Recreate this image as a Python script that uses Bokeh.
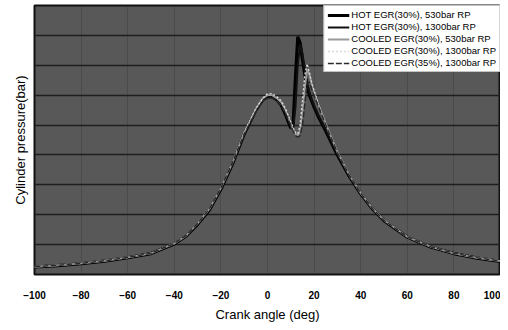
from bokeh.plotting import figure
from bokeh.embed import file_html
from bokeh.resources import INLINE
from bokeh.models import Legend, LegendItem, FixedTicker

crank = [-100, -90, -80, -70, -60, -50, -40, -35, -30, -25, -20, -15, -10, -5, -2, 0, 2, 4, 6, 8, 10, 11, 12, 13, 14, 15, 16, 17, 18, 19, 20, 22, 25, 30, 35, 40, 45, 50, 60, 70, 80, 90, 100]

hot_530 = [2.5, 3.0, 3.6, 4.5, 5.6, 7.0, 10.2, 12.8, 16.8, 21.5, 28.5, 37.0, 47.0, 55.0, 58.5, 59.5, 59.5, 58.5, 56.5, 53.0, 49.0, 50.5, 66.0, 79.5, 77.5, 72.0, 67.0, 63.0, 60.0, 58.0, 56.0, 52.5, 48.0, 40.0, 33.0, 27.0, 22.0, 18.0, 12.5, 9.2, 7.0, 5.5, 4.4]
hot_1300 = [2.5, 3.0, 3.6, 4.5, 5.6, 7.0, 10.2, 12.8, 16.8, 21.5, 28.5, 37.0, 47.0, 55.0, 58.5, 59.5, 59.5, 58.5, 57.0, 53.5, 49.5, 48.5, 56.0, 70.0, 77.0, 74.0, 68.5, 64.0, 61.0, 58.5, 56.5, 53.0, 48.5, 40.5, 33.0, 27.0, 22.0, 18.0, 12.5, 9.2, 7.0, 5.5, 4.4]
cool_530 = [2.6, 3.1, 3.7, 4.6, 5.7, 7.1, 10.4, 13.0, 17.1, 21.9, 29.0, 37.5, 47.5, 55.5, 59.0, 60.0, 60.0, 59.0, 57.5, 54.5, 50.5, 48.5, 47.0, 46.5, 48.0, 54.0, 62.0, 68.5, 67.0, 63.5, 61.0, 56.5, 50.5, 41.0, 33.5, 27.3, 22.2, 18.2, 12.6, 9.3, 7.1, 5.6, 4.5]
cool_1300 = [2.6, 3.1, 3.7, 4.6, 5.7, 7.1, 10.4, 13.0, 17.1, 21.9, 29.0, 37.5, 47.5, 55.5, 59.0, 60.5, 60.5, 59.5, 58.0, 55.0, 51.0, 49.0, 47.5, 47.0, 50.0, 58.0, 66.5, 70.5, 67.5, 64.0, 61.5, 56.5, 50.0, 40.8, 33.3, 27.2, 22.1, 18.1, 12.6, 9.3, 7.1, 5.6, 4.5]
cool35_1300 = [2.6, 3.1, 3.7, 4.6, 5.7, 7.1, 10.4, 13.0, 17.1, 21.9, 29.0, 37.5, 47.0, 54.5, 58.0, 59.0, 59.0, 58.0, 56.5, 53.5, 50.0, 48.0, 46.5, 46.0, 46.5, 50.0, 57.0, 63.5, 64.5, 62.0, 60.0, 56.0, 50.0, 40.8, 33.3, 27.2, 22.1, 18.1, 12.6, 9.3, 7.1, 5.6, 4.5]

labels = ["HOT EGR(30%), 530bar RP", "HOT EGR(30%), 1300bar RP",
          "COOLED EGR(30%), 530bar RP", "COOLED EGR(30%), 1300bar RP",
          "COOLED EGR(35%), 1300bar RP"]
x_ticks = [-100, -80, -60, -40, -20, 0, 20, 40, 60, 80, 100]
y_grid = [0, 10, 20, 30, 40, 50, 60, 70, 80, 90]

FONT = "Liberation Sans"

p = figure(width=500, height=324, x_range=(-100, 100), y_range=(0, 90),
           output_backend="svg", toolbar_location=None,
           min_border_left=34, min_border_right=0, min_border_top=5, min_border_bottom=40)
p.background_fill_color = "#585858"
p.border_fill_color = "white"
p.outline_line_color = "#111111"
p.outline_line_width = 2

p.xgrid.grid_line_color = "#333333"
p.xgrid.grid_line_alpha = 0.35
p.ygrid.grid_line_color = "#1e1e1e"
p.ygrid.grid_line_width = 1.5
p.ygrid.ticker = FixedTicker(ticks=y_grid)
p.xaxis.ticker = FixedTicker(ticks=x_ticks)
p.yaxis.ticker = FixedTicker(ticks=[])

p.xaxis.axis_label = "Crank angle (deg)"
p.yaxis.axis_label = "Cylinder pressure(bar)"
for ax in (p.xaxis[0], p.yaxis[0]):
    ax.axis_label_text_font = FONT
    ax.axis_label_text_font_style = "normal"
    ax.axis_label_text_font_size = "13px"
    ax.axis_label_text_color = "black"
    ax.major_label_text_font = FONT
    ax.major_label_text_font_size = "10px"
    ax.major_label_text_font_style = "bold"
    ax.major_label_text_color = "black"
    ax.axis_line_color = None
    ax.major_tick_line_color = None
    ax.minor_tick_line_color = None
p.xaxis.major_label_standoff = 10
p.xaxis.axis_label_standoff = 5
p.yaxis.major_label_standoff = 0
p.yaxis.axis_label_standoff = 7

r1 = p.line(crank, hot_530, line_color="black", line_width=3.2)
r2 = p.line(crank, hot_1300, line_color="#111111", line_width=2)
r3 = p.line(crank, cool_530, line_color="#9a9a9a", line_width=1.8)
r4 = p.line(crank, cool_1300, line_color="#d8d8d8", line_width=1.4, line_dash="2 2")
r5 = p.line(crank, cool35_1300, line_color="#2a2a2a", line_width=1.5, line_dash="6 2")

legend = Legend(items=[LegendItem(label=l, renderers=[r]) for l, r in zip(labels, [r1, r2, r3, r4, r5])],
                location="top_right", margin=0, padding=3, spacing=1,
                glyph_width=22, glyph_height=10, label_height=10, label_standoff=2,
                label_text_font=FONT, label_text_font_size="9.5px", label_text_color="black",
                background_fill_color="white", background_fill_alpha=1.0,
                border_line_color="#888888", border_line_width=1)
p.add_layout(legend, "center")

open("out.html", "w").write(file_html(p, INLINE))
